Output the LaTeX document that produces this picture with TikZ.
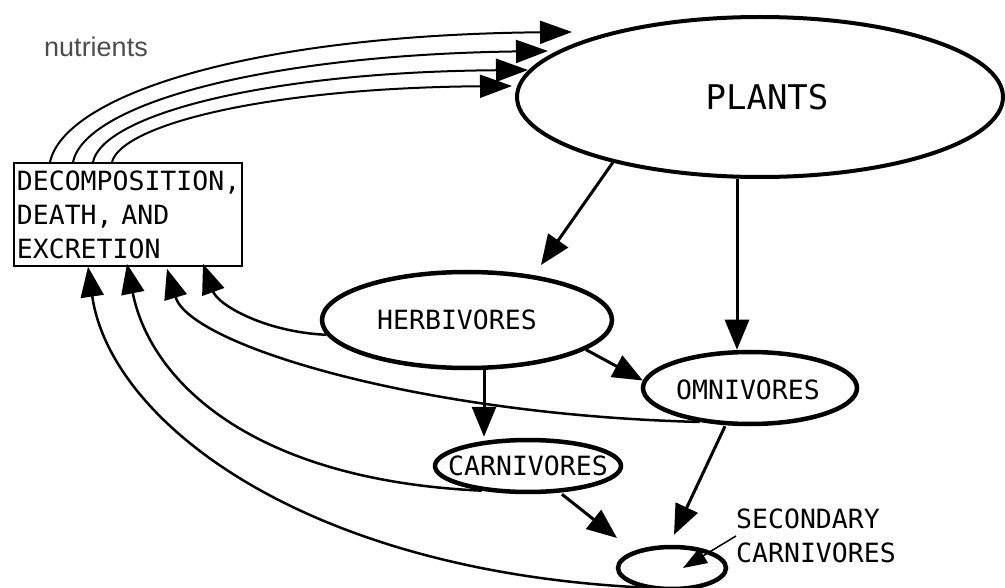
\documentclass[tikz,border=0pt]{standalone}
\usepackage{fontspec}
\usetikzlibrary{arrows.meta,shapes.geometric}
\newfontfamily\pixfont{DejaVu Sans Mono}
\newfontfamily\arialfont{Liberation Sans}
\tikzset{
  oval/.style={draw, ellipse, inner sep=0pt, line width=4.5pt, font=\pixfont\fontsize{26.5}{34}\selectfont},
  lbl/.style={font=\pixfont\fontsize{26.5}{34}\selectfont, inner sep=0pt},
  arr/.style={line width=3pt, -{Triangle[length=30pt,width=24pt]}},
  carr/.style={line width=2.5pt, -{Triangle[length=30pt,width=23pt]}},
  tarr/.style={line width=2pt, -{Triangle[length=32pt,width=23pt]}},
  larr/.style={line width=1.5pt, -{Triangle[length=24pt,width=17pt]}}
}
\begin{document}
\begin{tikzpicture}[x=1pt,y=-1pt]
\useasboundingbox[fill=white] (0,0) rectangle (1005,588);
% nodes
\node[oval, line width=4pt, minimum width=486pt, minimum height=160pt] (plants) at (760,97) {};
\node[lbl, font=\pixfont\fontsize{34}{38}\selectfont] (plantstxt) at (767,97) {PLANTS};
\node[oval, minimum width=290pt, minimum height=96pt] (herb) at (467,320) {};
\node[lbl] (herbtxt) at (457,320) {HERBIVORES};
\node[oval, minimum width=214pt, minimum height=72pt] (omni) at (750,388) {};
\node[lbl] (omnitxt) at (748,390) {OMNIVORES};
\node[oval, minimum width=186pt, minimum height=52pt] (carn) at (528,466) {};
\node[lbl] (carntxt) at (528,466) {CARNIVORES};
\node[oval, minimum width=108pt, minimum height=42pt] (sec) at (672,568) {};
\node[lbl, align=left, anchor=west] (seclabel) at (736,536) {SECONDARY\\CARNIVORES};
\node[draw, line width=1.8pt, anchor=north west, minimum width=228pt, minimum height=103pt,
      inner xsep=3pt, inner ysep=0pt, text width=222pt, align=left, lbl] (box) at (13,162)
      {DECOMPOSITION,\\DEATH, AND\\EXCRETION};
\node[font=\arialfont\fontsize{27}{30}\selectfont, text=black!70, inner sep=0pt] (nutr) at (96,47) {nutrients};
% straight arrows
\draw[arr] (plants.204) -- ([shift={(74,-55)}]herb.center);
\draw[arr] ([shift={(-23,0)}]plants.south) -- ([shift={(-13,0)}]omni.north);
\draw[arr] (herb.-14) -- (omni.176);
\draw[arr] ([shift={(17,0)}]herb.south) -- ([shift={(-44,-1)}]carn.north);
\draw[arr] ([shift={(-25,0)}]omni.south) -- ([shift={(2,-10)}]sec.north);
\draw[arr] ([shift={(34,0)}]carn.south) -- ([shift={(-55,-30)}]sec.center);
\draw[larr] (seclabel.west) -- ([shift={(11,0)}]sec.center);
% returns to decomposition box
\draw[carr] (herb.186) .. controls (265,332) and (218,305) .. ([shift={(190,-3)}]box.south west);
\draw[carr] (omni.214) .. controls (420,415) and (190,345) .. ([shift={(154,2)}]box.south west);
\draw[carr] (carn.208) .. controls (250,480) and (150,380) .. ([shift={(114,-3)}]box.south west);
\draw[carr] (sec.212) .. controls (300,570) and (110,420) .. ([shift={(75,0)}]box.south west);
% nutrients to plants
\draw[tarr] ([shift={(37,0)}]box.north west) .. controls (65,95) and (250,35) .. ([shift={(-188,-65)}]plants.center);
\draw[tarr] ([shift={(60,0)}]box.north west) .. controls (85,105) and (260,55) .. ([shift={(-212,-46)}]plants.center);
\draw[tarr] ([shift={(80,0)}]box.north west) .. controls (103,115) and (265,72) .. ([shift={(-232,-27)}]plants.center);
\draw[tarr] ([shift={(99,0)}]box.north west) .. controls (122,125) and (265,88) .. ([shift={(-248,-11)}]plants.center);
\end{tikzpicture}
\end{document}
